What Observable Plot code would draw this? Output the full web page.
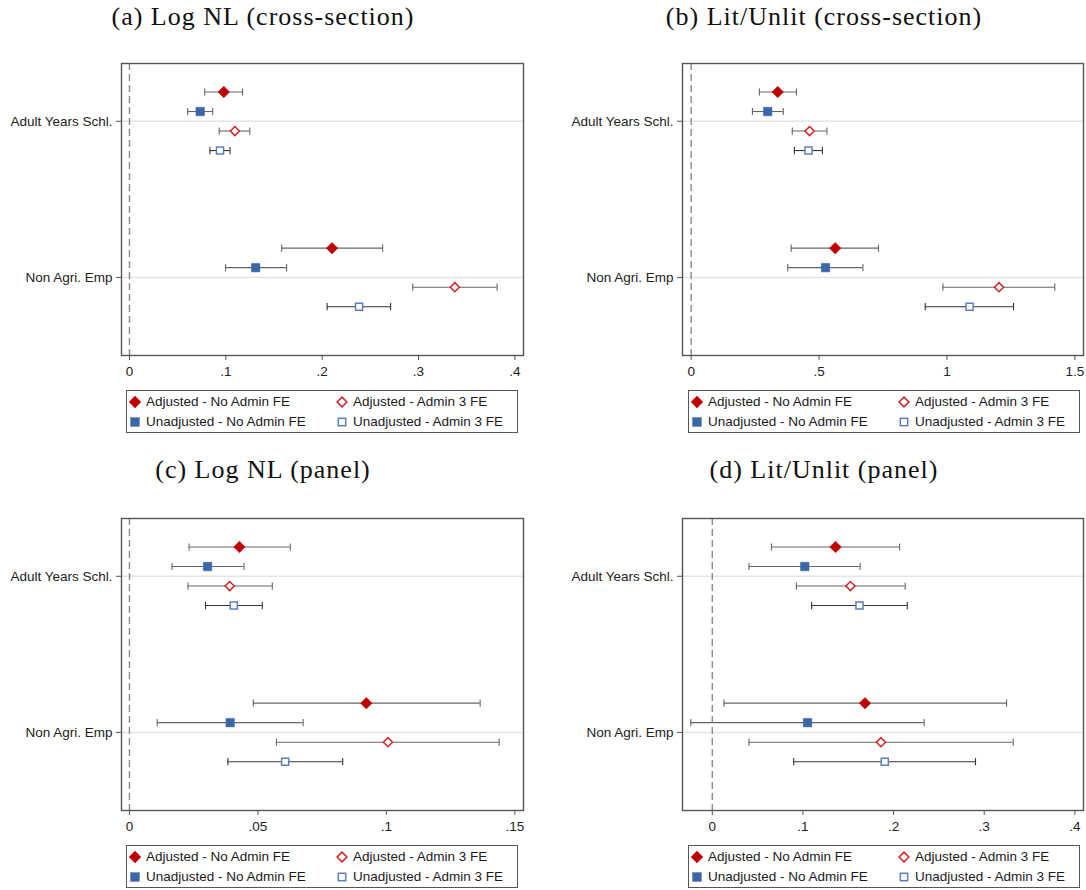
<!DOCTYPE html>
<html><head><meta charset="utf-8">
<script src="https://cdn.jsdelivr.net/npm/d3@7"></script>
<script src="https://cdn.jsdelivr.net/npm/@observablehq/plot@0.6"></script>
<style>
body{margin:0;background:#fff;}
#root{position:relative;width:1086px;height:890px;background:#fff;overflow:hidden;font-family:"Liberation Sans",Arial,sans-serif;}
.title{position:absolute;width:440px;text-align:center;font-family:"Liberation Serif",serif;font-size:26px;letter-spacing:1px;line-height:26px;color:#111;white-space:nowrap;}
.panel{position:absolute;}
.legend{position:absolute;border:1px solid #555;box-sizing:border-box;background:#fff;width:392px;height:43px;}
.item{position:absolute;font-size:13.5px;color:#1a1a1a;white-space:nowrap;line-height:14px;}
.sym{position:absolute;}
</style></head><body><div id="root"></div>
<script>
// ---------------- data ----------------
const categories = ["Adult Years Schl.", "Non Agri. Emp"];
const series = ["Adjusted - No Admin FE", "Unadjusted - No Admin FE", "Adjusted - Admin 3 FE", "Unadjusted - Admin 3 FE"];
const panelTitles = ["(a) Log NL (cross-section)", "(b) Lit/Unlit (cross-section)", "(c) Log NL (panel)", "(d) Lit/Unlit (panel)"];

// rows: categories, columns: series
const estA = [[0.0979, 0.0734, 0.1094, 0.0940], [0.2103, 0.1310, 0.3377, 0.2383]];
const loA  = [[0.0781, 0.0605, 0.0932, 0.0835], [0.1580, 0.0997, 0.2941, 0.2052]];
const hiA  = [[0.1174, 0.0864, 0.1249, 0.1044], [0.2628, 0.1631, 0.3816, 0.2711]];

const estB = [[0.3385, 0.2992, 0.4630, 0.4589], [0.5632, 0.5253, 1.2035, 1.0885]];
const loB  = [[0.2667, 0.2396, 0.3953, 0.4034], [0.3912, 0.3777, 0.9842, 0.9152]];
const hiB  = [[0.4116, 0.3601, 0.5307, 0.5131], [0.7324, 0.6715, 1.4215, 1.2604]];

const estC = [[0.0428, 0.0304, 0.0390, 0.0406], [0.0922, 0.0392, 0.1006, 0.0606]];
const loC  = [[0.0232, 0.0166, 0.0228, 0.0296], [0.0482, 0.0108, 0.0572, 0.0383]];
const hiC  = [[0.0626, 0.0446, 0.0556, 0.0517], [0.1365, 0.0676, 0.1439, 0.0830]];

const estD = [[0.1360, 0.1020, 0.1524, 0.1624], [0.1685, 0.1051, 0.1861, 0.1903]];
const loD  = [[0.0653, 0.0405, 0.0928, 0.1096], [0.0130, -0.0237, 0.0405, 0.0898]];
const hiD  = [[0.2067, 0.1631, 0.2128, 0.2151], [0.3247, 0.2338, 0.3320, 0.2904]];

const ticksA = [0, 0.1, 0.2, 0.3, 0.4];   const tickLabelsA = ["0", ".1", ".2", ".3", ".4"];
const ticksB = [0, 0.5, 1, 1.5];          const tickLabelsB = ["0", ".5", "1", "1.5"];
const ticksC = [0, 0.05, 0.1, 0.15];      const tickLabelsC = ["0", ".05", ".1", ".15"];
const ticksD = [0, 0.1, 0.2, 0.3, 0.4];   const tickLabelsD = ["0", ".1", ".2", ".3", ".4"];

// ---------------- styles ----------------
const RED = "#c00000", BLUE = "#3b67a8", RED_H = "#d42424", BLUE_H = "#5a80c0";
const seriesStyle = [
  {symbol: "diamond2", fill: RED, stroke: RED, r: 5.2, sw: 0.5, bar: "#666"},
  {symbol: "square", fill: BLUE, stroke: BLUE, r: 4.8, sw: 0.5, bar: "#666"},
  {symbol: "diamond2", fill: "white", stroke: RED_H, r: 4.1, sw: 1.5, bar: "#666"},
  {symbol: "square", fill: "white", stroke: BLUE_H, r: 4.0, sw: 1.5, bar: "#333"}
];
const capSymbol = {draw(ctx) { ctx.moveTo(0, -3.6); ctx.lineTo(0, 3.6); }};

const panels = [
  {est: estA, lo: loA, hi: hiA, ticks: ticksA, labels: tickLabelsA, domain: [-0.00828, 0.4090], col: 0, row: 0},
  {est: estB, lo: loB, hi: hiB, ticks: ticksB, labels: tickLabelsB, domain: [-0.0338, 1.5338], col: 1, row: 0},
  {est: estC, lo: loC, hi: hiC, ticks: ticksC, labels: tickLabelsC, domain: [-0.0031, 0.15338], col: 0, row: 1},
  {est: estD, lo: loD, hi: hiD, ticks: ticksD, labels: tickLabelsD, domain: [-0.03286, 0.40955], col: 1, row: 1}
];

const root = document.getElementById("root");
const ROW_OFF = 455;

function makePlot(p) {
  const rows = [];
  categories.forEach((c, ci) => series.forEach((s, si) => rows.push({
    cat: c, si, pos: ci + 1 + (si - 1.5) * 0.125,
    est: p.est[ci][si], lo: p.lo[ci][si], hi: p.hi[ci][si]
  })));
  const fmt = new Map(p.ticks.map((t, i) => [t, p.labels[i]]));
  const marks = [
    Plot.gridY([1, 2], {stroke: "#e4e4e4", strokeOpacity: 1, strokeWidth: 1.6}),
    Plot.ruleX([0], {stroke: "#8a8a8a", strokeWidth: 1.4, strokeDasharray: "7,4"})
  ];
  seriesStyle.forEach((st, si) => {
    const d = rows.filter(r => r.si === si);
    marks.push(Plot.ruleY(d, {y: "pos", x1: "lo", x2: "hi", stroke: st.bar, strokeWidth: 1.1}));
    marks.push(Plot.dot(d, {x: "lo", y: "pos", symbol: capSymbol, fill: "none", stroke: st.bar, strokeWidth: 1.1}));
    marks.push(Plot.dot(d, {x: "hi", y: "pos", symbol: capSymbol, fill: "none", stroke: st.bar, strokeWidth: 1.1}));
  });
  seriesStyle.forEach((st, si) => {
    const d = rows.filter(r => r.si === si);
    marks.push(Plot.dot(d, {x: "est", y: "pos", symbol: st.symbol, r: st.r, fill: st.fill, stroke: st.stroke, strokeWidth: st.sw}));
  });
  marks.push(Plot.axisX(p.ticks, {tickFormat: d => fmt.get(d), tickSize: 5, tickPadding: 6, stroke: "#555", fill: "#222", fontSize: 13.5, label: null}));
  marks.push(Plot.axisY([1, 2], {tickFormat: d => categories[d - 1], tickSize: 5, tickPadding: 4, stroke: "#555", fill: "#222", fontSize: 13.5, label: null}));
  marks.push(Plot.frame({stroke: "#555", strokeWidth: 1.4}));
  return Plot.plot({
    width: 543, height: 335,
    marginLeft: p.col === 0 ? 121 : 139,
    marginRight: p.col === 0 ? 20 : 3,
    marginTop: 13, marginBottom: 30,
    style: {fontFamily: "Liberation Sans, Arial, sans-serif", fontSize: "13.5px", color: "#222", background: "white", overflow: "visible"},
    x: {domain: p.domain, label: null},
    y: {domain: [0.63, 2.5], reverse: true, label: null},
    marks
  });
}

function symSvg(si) {
  const st = seriesStyle[si];
  const ns = "http://www.w3.org/2000/svg";
  const svg = document.createElementNS(ns, "svg");
  svg.setAttribute("width", 14); svg.setAttribute("height", 14);
  svg.setAttribute("viewBox", "-7 -7 14 14");
  let el;
  if (st.symbol === "diamond2") {
    const h = si === 0 ? 5.9 : 4.9;
    el = document.createElementNS(ns, "path");
    el.setAttribute("d", `M0,${-h}L${h},0L0,${h}L${-h},0Z`);
  } else {
    const h = si === 1 ? 4.3 : 3.7;
    el = document.createElementNS(ns, "rect");
    el.setAttribute("x", -h); el.setAttribute("y", -h);
    el.setAttribute("width", 2 * h); el.setAttribute("height", 2 * h);
  }
  el.setAttribute("fill", st.fill);
  el.setAttribute("stroke", st.stroke);
  el.setAttribute("stroke-width", st.sw);
  svg.appendChild(el);
  return svg;
}

panels.forEach((p, k) => {
  const ox = p.col * 543, oy = p.row * ROW_OFF;
  const t = document.createElement("div");
  t.className = "title";
  t.textContent = panelTitles[k];
  t.style.left = ((p.col === 0 ? 263 : 824) - 220) + "px";
  t.style.top = (4 + p.row * 453) + "px";
  root.appendChild(t);

  const wrap = document.createElement("div");
  wrap.className = "panel";
  wrap.style.left = ox + "px";
  wrap.style.top = (50 + oy) + "px";
  wrap.appendChild(makePlot(p));
  root.appendChild(wrap);

  const lg = document.createElement("div");
  lg.className = "legend";
  lg.style.left = (ox + (p.col === 0 ? 126 : 145)) + "px";
  lg.style.top = (390 + oy) + "px";
  const order = [0, 2, 1, 3];
  order.forEach((si, j) => {
    const colX = j % 2 === 0 ? 0 : 207;
    const rowY = j < 2 ? 12 : 32;
    const s = symSvg(si);
    s.setAttribute("class", "sym");
    s.style.left = (colX + 9 - 7 - 1) + "px";
    s.style.top = (rowY - 7 - 1) + "px";
    lg.appendChild(s);
    const it = document.createElement("div");
    it.className = "item";
    it.textContent = series[si];
    it.style.left = (colX + 20 - 1) + "px";
    it.style.top = (rowY - 7 - 1) + "px";
    lg.appendChild(it);
  });
  root.appendChild(lg);
});
</script></body></html>
